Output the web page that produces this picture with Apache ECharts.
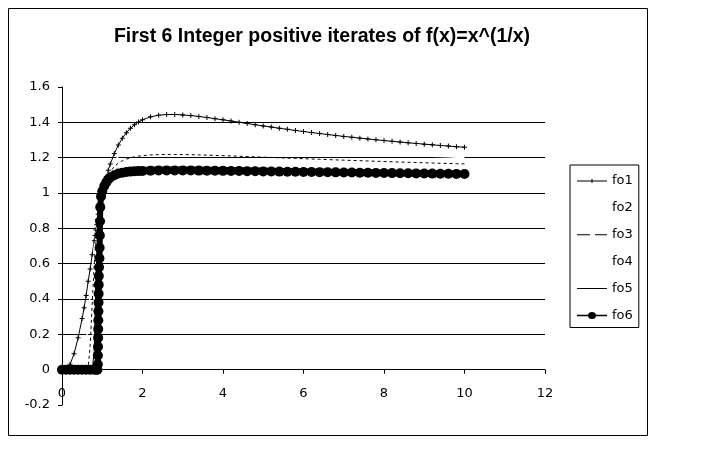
<!DOCTYPE html>
<html>
<head>
<meta charset="utf-8">
<script src="https://cdn.jsdelivr.net/npm/echarts@6/dist/echarts.min.js"></script>
<style>
html,body{margin:0;padding:0;background:#fff;}
#chart{width:720px;height:450px;}
</style>
</head>
<body>
<div id="chart"></div>
<script>
const titleText = 'First 6 Integer positive iterates of f(x)=x^(1/x)';
const seriesNames = ['fo1','fo2','fo3','fo4','fo5','fo6'];
const xTicks = {min: 0, max: 12, interval: 2};
const yTicks = {min: -0.2, max: 1.6, interval: 0.2};

// shared x values for fo1..fo5
const xs = [0,0.1,0.15,0.2,0.3,0.4,0.5,0.55,0.6,0.65,0.7,0.75,0.8,0.82,0.84,0.86,0.88,0.9,0.92,0.95,1.0,1.05,1.1,1.15,1.2,1.3,1.4,1.5,1.6,1.7,1.8,1.9,2.0,
  2.2,2.4,2.6,2.8,3.0,3.2,3.4,3.6,3.8,4.0,4.2,4.4,4.6,4.8,5.0,5.2,5.4,5.6,5.8,6.0,6.2,6.4,6.6,6.8,7.0,7.2,7.4,7.6,7.8,8.0,8.2,8.4,8.6,8.8,9.0,9.2,9.4,9.6,9.8,10];

const fo1 = [0,0,0.01,0.03,0.09,0.18,0.29,0.35,0.42,0.50,0.57,0.65,0.73,0.76,0.79,0.82,0.85,0.88,0.91,0.947,1.0,1.0476,1.0905,1.1292,1.1641,1.2236,1.2717,1.3104,1.3414,1.3663,1.3862,1.4019,1.4142,
  1.4310,1.4402,1.4441,1.4444,1.4422,1.4383,1.4332,1.4273,1.4209,1.4142,1.4073,1.4004,1.3934,1.3866,1.3797,1.3731,1.3666,1.3602,1.3540,1.3480,1.3422,1.3365,1.3310,1.3257,1.3205,1.3155,1.3106,1.3059,1.3013,1.2968,1.2925,1.2884,1.2843,1.2804,1.2765,1.2728,1.2692,1.2657,1.2622,1.2589];

const fo2 = [0,0,0,0,0,0,0.004,0.04,0.136,0.276,0.428,0.570,0.692,0.735,0.775,0.811,0.845,0.877,0.906,0.945,1.0,1.0454,1.0827,1.1136,1.1394,1.1793,1.2080,1.2291,1.2448,1.2566,1.2656,1.2725,1.2777,
  1.2846,1.2882,1.2898,1.2899,1.2890,1.2874,1.2854,1.2830,1.2804,1.2777,1.2748,1.2718,1.2688,1.2658,1.2628,1.2597,1.2567,1.2537,1.2508,1.2480,1.2451,1.2423,1.2396,1.2369,1.2343,1.2317,1.2291,1.2267,1.2242,1.2219,1.2196,1.2173,1.2151,1.2129,1.2108,1.2087,1.2066,1.2046,1.2026,1.2007];

const fo3 = [0,0,0,0,0,0,0,0,0,0.0095,0.138,0.372,0.587,0.657,0.719,0.773,0.820,0.861,0.896,0.942,1.0,1.0434,1.0762,1.1015,1.1214,1.1501,1.1694,1.1827,1.1923,1.1994,1.2046,1.2085,1.2114,
  1.2153,1.2173,1.2181,1.2181,1.2177,1.2168,1.2157,1.2144,1.2129,1.2114,1.2097,1.2080,1.2063,1.2046,1.2029,1.2011,1.1993,1.1976,1.1959,1.1942,1.1925,1.1908,1.1891,1.1875,1.1860,1.1844,1.1828,1.1812,1.1797,1.1782,1.1767,1.1752,1.1738,1.1724,1.1711,1.1697,1.1684,1.1671,1.1658,1.1646];

const fo4 = [0,0,0,0,0,0,0,0,0,0,0,0.0703,0.403,0.528,0.632,0.717,0.785,0.840,0.885,0.938,1.0,1.0415,1.0706,1.0917,1.1075,1.1293,1.1432,1.1525,1.1590,1.1637,1.1671,1.1696,1.1715,
  1.1740,1.1753,1.1758,1.1759,1.1756,1.1750,1.1743,1.1734,1.1725,1.1715,1.1704,1.1693,1.1682,1.1671,1.1660,1.1648,1.1637,1.1625,1.1614,1.1603,1.1591,1.1580,1.1569,1.1558,1.1547,1.1536,1.1525,1.1514,1.1504,1.1494,1.1483,1.1473,1.1463,1.1453,1.1444,1.1434,1.1425,1.1416,1.1407,1.1398];

const fo5 = [0,0,0,0,0,0,0,0,0,0,0,0,0.105,0.299,0.484,0.628,0.734,0.812,0.871,0.934,1.0,1.0398,1.0658,1.0837,1.0966,1.1137,1.1242,1.1310,1.1358,1.1391,1.1416,1.1434,1.1447,
  1.1464,1.1473,1.1477,1.1477,1.1475,1.1471,1.1466,1.1460,1.1454,1.1447,1.1439,1.1431,1.1424,1.1416,1.1408,1.1399,1.1391,1.1383,1.1375,1.1367,1.1358,1.1350,1.1342,1.1334,1.1326,1.1318,1.1310,1.1303,1.1295,1.1288,1.1280,1.1273,1.1265,1.1258,1.1251,1.1244,1.1236,1.1229,1.1223,1.1216];

// fo6 has its own (denser) x values
const x6 = [0,0.1,0.2,0.3,0.4,0.5,0.6,0.7,0.8,0.85,0.88,0.89,0.8925,0.895,0.8975,0.9,0.9025,0.905,0.9075,0.91,0.9125,0.915,0.92,0.93,0.935,0.94,0.945,0.95,0.97,1.0,1.05,1.1,1.15,1.2,1.3,1.4,1.5,1.6,1.7,1.8,1.9,2.0,
  2.2,2.4,2.6,2.8,3.0,3.2,3.4,3.6,3.8,4.0,4.2,4.4,4.6,4.8,5.0,5.2,5.4,5.6,5.8,6.0,6.2,6.4,6.6,6.8,7.0,7.2,7.4,7.6,7.8,8.0,8.2,8.4,8.6,8.8,9.0,9.2,9.4,9.6,9.8,10];
const fo6 = [0,0,0,0,0,0,0,0,0,0,0,0.03,0.08,0.13,0.18,0.23,0.28,0.33,0.38,0.43,0.48,0.53,0.58,0.63,0.69,0.76,0.84,0.92,0.98,1.01,1.04,1.06,1.077,1.088,1.10,1.11,1.115,1.119,1.121,1.123,1.124,1.125,
  1.1266,1.1273,1.1276,1.1276,1.1274,1.1271,1.1267,1.1263,1.1258,1.1253,1.1247,1.1241,1.1236,1.1230,1.1224,1.1218,1.1211,1.1205,1.1199,1.1193,1.1186,1.1180,1.1174,1.1168,1.1162,1.1156,1.1150,1.1144,1.1138,1.1133,1.1127,1.1121,1.1115,1.1109,1.1104,1.1098,1.1093,1.1087,1.1082,1.1077];

const pairs = (xv, yv) => xv.map((x, i) => [x, yv[i]]);
const FONT = 'DejaVu Sans';
const plusPath = 'path://M-0.6,-3H0.6V-0.6H3V0.6H0.6V3H-0.6V0.6H-3V-0.6H-0.6Z';
// legend icons (30x14 box, thin bar in the middle)
const iconSolid = 'path://M0,0H0.01V0.01H0Z M0,6.5H30V7.5H0Z M29.99,13.99H30V14H29.99Z';
const iconDash = 'path://M0,0H0.01V0.01H0Z M0,6.5H13V7.5H0Z M18,6.5H30V7.5H18Z M29.99,13.99H30V14H29.99Z';
const iconTick = 'path://M0,0H0.01V0.01H0Z M0,6.5H30V7.5H0Z M14.5,5H15.5V9H14.5Z M29.99,13.99H30V14H29.99Z';
const iconDot = 'path://M0,0H0.01V0.01H0Z M0,6.3H30V7.7H0Z M19,7A4,3.5,0,1,1,11,7A4,3.5,0,1,1,19,7Z M29.99,13.99H30V14H29.99Z';

const chart = echarts.init(document.getElementById('chart'), null, {renderer: 'canvas'});
chart.setOption({
  animation: false,
  backgroundColor: '#fff',
  title: {
    text: titleText,
    left: 322, textAlign: 'center', top: 27, padding: 0,
    textStyle: {fontFamily: 'Liberation Sans, Arial', fontWeight: 'bold', fontSize: 19.5, color: '#000'}
  },
  graphic: [{
    type: 'rect', left: 6, top: 6, silent: true, z: -1,
    shape: {width: 639, height: 427},
    style: {fill: 'none', stroke: '#000', lineWidth: 1}
  }],
  legend: {
    orient: 'vertical', left: 570, top: 165,
    borderColor: '#000', borderWidth: 1,
    padding: [9, 6, 5, 7],
    itemWidth: 30, itemHeight: 14, itemGap: 12.9,
    textStyle: {fontFamily: FONT, fontSize: 13, color: '#000'},
    data: [
      {name: 'fo1', icon: iconTick},
      {name: 'fo2', icon: iconSolid},
      {name: 'fo3', icon: iconDash},
      {name: 'fo4', icon: iconSolid},
      {name: 'fo5', icon: iconSolid},
      {name: 'fo6', icon: iconDot}
    ]
  },
  grid: {left: 62, right: 175, top: 87, bottom: 45, containLabel: false},
  xAxis: {
    type: 'value', min: xTicks.min, max: xTicks.max, interval: xTicks.interval,
    axisLine: {show: true, onZero: true, lineStyle: {color: '#000', width: 1}},
    axisTick: {show: true, length: 4, lineStyle: {color: '#000'}},
    axisLabel: {color: '#000', fontFamily: FONT, fontSize: 13, margin: -18},
    splitLine: {show: false}
  },
  yAxis: {
    type: 'value', min: yTicks.min, max: yTicks.max, interval: yTicks.interval,
    axisLine: {show: true, onZero: false, lineStyle: {color: '#000', width: 1}},
    axisTick: {show: true, length: 4, lineStyle: {color: '#000'}},
    axisLabel: {color: '#000', fontFamily: FONT, fontSize: 13, margin: 12},
    splitLine: {show: true, showMinLine: false, showMaxLine: false, lineStyle: {color: '#000', width: 1}}
  },
  series: [
    {name: seriesNames[0], type: 'line', data: pairs(xs, fo1), symbol: plusPath, symbolSize: 5,
     itemStyle: {color: '#000'}, lineStyle: {color: '#000', width: 1}},
    {name: seriesNames[1], type: 'line', data: pairs(xs, fo2), symbol: 'none',
     itemStyle: {color: '#fff'}, lineStyle: {color: '#fff', width: 1.5}},
    {name: seriesNames[2], type: 'line', data: pairs(xs, fo3), symbol: 'none',
     itemStyle: {color: '#000'}, lineStyle: {color: '#000', width: 1, type: [3, 3]}},
    {name: seriesNames[3], type: 'line', data: pairs(xs, fo4), symbol: 'none',
     itemStyle: {color: '#fff'}, lineStyle: {color: '#fff', width: 1.5}},
    {name: seriesNames[4], type: 'line', data: pairs(xs, fo5), symbol: 'none',
     itemStyle: {color: '#000'}, lineStyle: {color: '#000', width: 1}},
    {name: seriesNames[5], type: 'line', data: pairs(x6, fo6), symbol: 'circle', symbolSize: 10,
     itemStyle: {color: '#000'}, lineStyle: {color: '#000', width: 6}}
  ]
});
</script>
</body>
</html>
